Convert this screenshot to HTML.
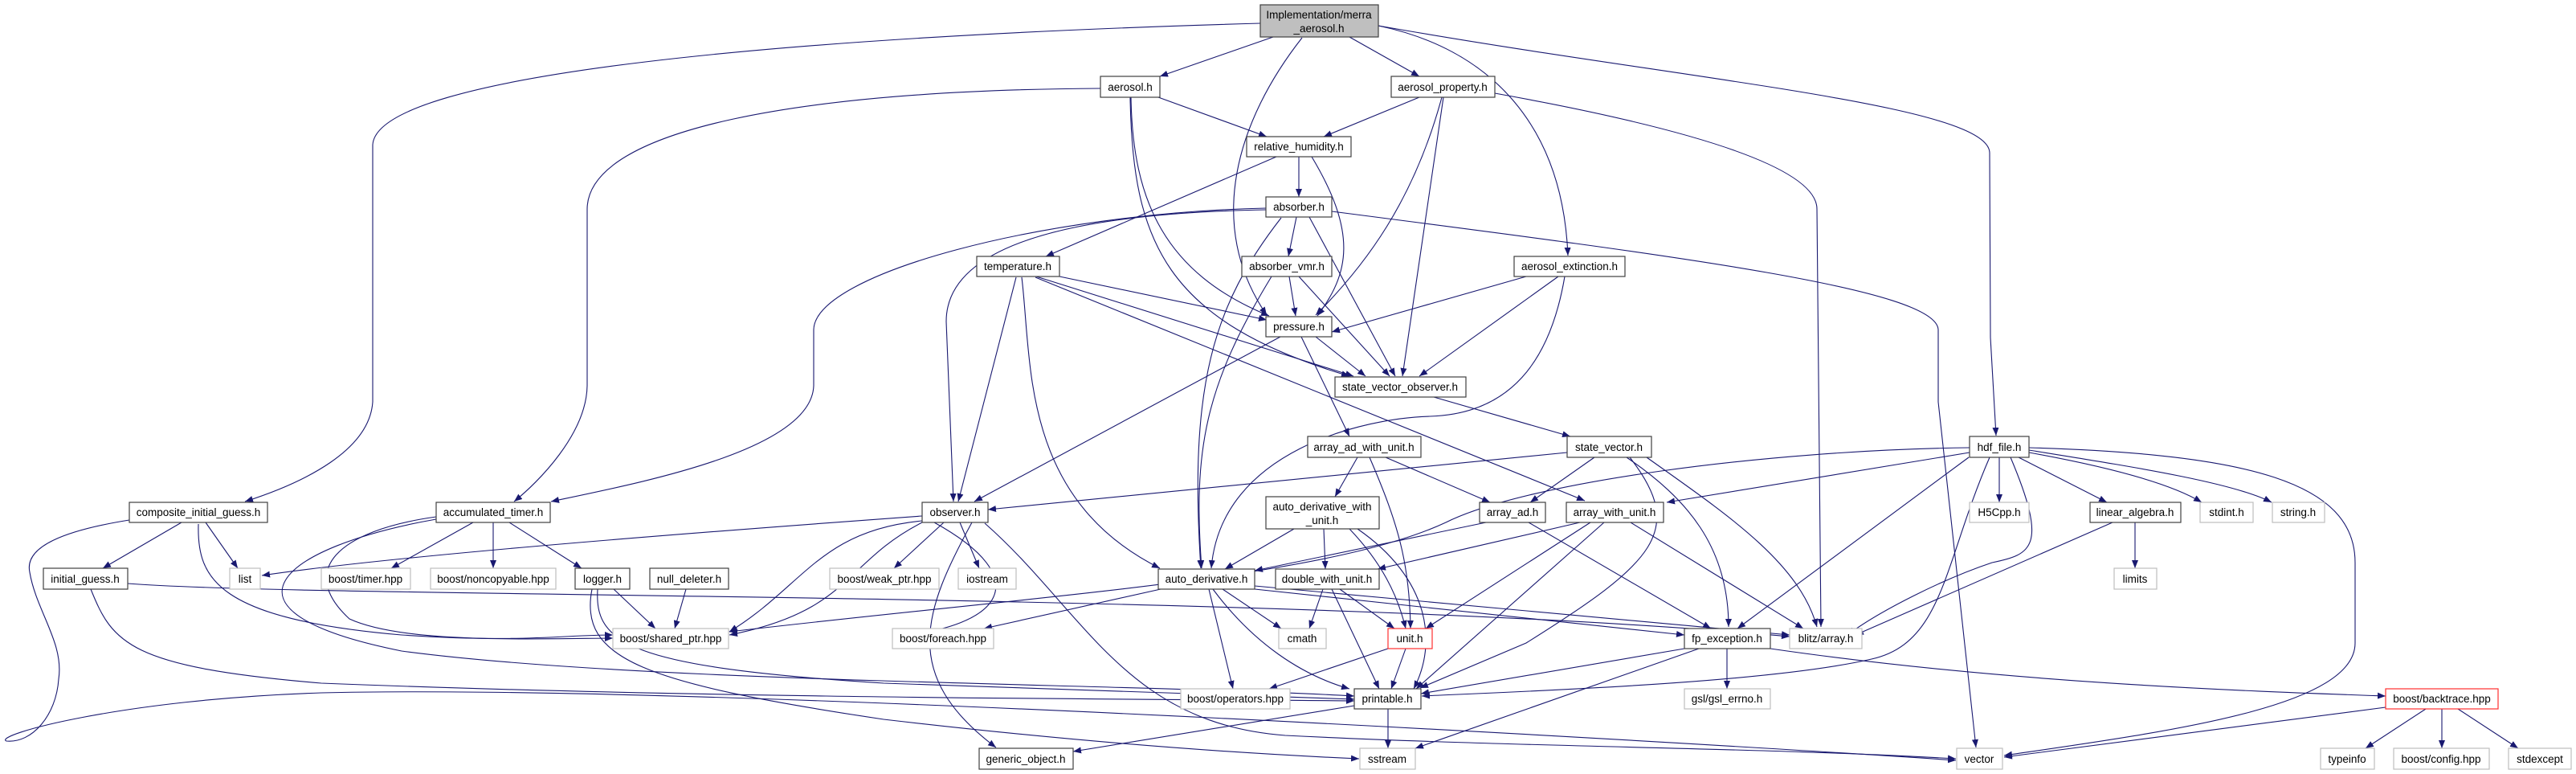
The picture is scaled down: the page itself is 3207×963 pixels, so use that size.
<!DOCTYPE html>
<html><head><meta charset="utf-8"><style>
html,body{margin:0;padding:0;background:#fff;}
svg{display:block;}
text{font-family:"Liberation Sans",sans-serif;font-size:13.5px;fill:#000;text-anchor:middle;}
.e{fill:none;stroke:#191970;stroke-width:1.1;marker-end:url(#a);}
.n{fill:#fff;stroke:#404040;stroke-width:1.2;}
.x{fill:#fff;stroke:#bfbfbf;stroke-width:1.2;}
.r{fill:#fff;stroke:#ff3030;stroke-width:1.2;}
</style></head><body>
<svg width="3207" height="963" viewBox="0 0 3207 963" xmlns="http://www.w3.org/2000/svg">
<defs><marker id="a" viewBox="0 0 10 8" refX="10" refY="4" markerWidth="10" markerHeight="8" markerUnits="userSpaceOnUse" orient="auto"><path d="M0,0 L10,4 L0,8 z" fill="#191970"/></marker></defs>
<g>
<!-- top edges -->
<path class="e" d="M1569,29 C1000,45 470,90 464,180 L464,500 C460,560 380,600 305,624"/>
<path class="e" d="M1585,46 L1444,95"/>
<path class="e" d="M1621,47 C1540,150 1500,280 1577,392"/>
<path class="e" d="M1680,46 L1767,95"/>
<path class="e" d="M1716,32 C1850,60 1945,150 1952,318"/>
<path class="e" d="M1716,32 C2100,100 2475,130 2477,190 L2478,420 L2485,542"/>
<!-- aerosol.h -->
<path class="e" d="M1370,110 C1000,112 732,160 731,260 L731,480 C730,540 670,600 640,624"/>
<path class="e" d="M1442,121 L1577,170"/>
<path class="e" d="M1408,121 C1410,250 1450,340 1580,393"/>
<path class="e" d="M1407,121 C1410,300 1450,400 1680,468"/>
<!-- aerosol_property -->
<path class="e" d="M1767,121 L1648,170"/>
<path class="e" d="M1795,121 C1760,250 1700,330 1638,392"/>
<path class="e" d="M1797,121 L1746,468"/>
<path class="e" d="M1861,116 C2050,150 2262,200 2262,260 L2267,780"/>
<!-- relative_humidity -->
<path class="e" d="M1617,195 L1617,245"/>
<path class="e" d="M1589,195 L1302,319"/>
<path class="e" d="M1633,195 C1690,290 1680,340 1640,393"/>
<!-- absorber -->
<path class="e" d="M1614,270 L1604,319"/>
<path class="e" d="M1630,270 L1737,468"/>
<path class="e" d="M1595,271 C1510,380 1480,480 1495,707"/>
<path class="e" d="M1658,263 C2100,320 2410,360 2413,410 L2413,500 L2460,930"/>
<path class="e" d="M1576,259 C1300,265 1015,340 1013,410 L1013,480 C1010,560 800,600 686,624"/>
<path class="e" d="M1576,261 C1350,265 1178,300 1178,400 L1187,624"/>
<!-- temperature -->
<path class="e" d="M1319,344 L1577,398"/>
<path class="e" d="M1290,344 L1685,468"/>
<path class="e" d="M1289,345 L1973,623"/>
<path class="e" d="M1265,345 L1193,624"/>
<path class="e" d="M1272,345 C1285,450 1270,620 1444,707"/>
<!-- absorber_vmr -->
<path class="e" d="M1605,344 L1613,393"/>
<path class="e" d="M1617,344 L1730,468"/>
<path class="e" d="M1583,344 C1500,480 1485,560 1496,707"/>
<!-- aerosol_extinction -->
<path class="e" d="M1900,344 L1658,413"/>
<path class="e" d="M1940,344 L1767,468"/>
<path class="e" d="M1948,344 C1930,450 1880,515 1780,518 C1700,520 1520,560 1508,707"/>
<!-- pressure -->
<path class="e" d="M1638,419 L1700,468"/>
<path class="e" d="M1594,419 L1213,624"/>
<path class="e" d="M1620,419 L1680,543"/>
<!-- svo -->
<path class="e" d="M1785,494 L1955,543"/>
<!-- state_vector -->
<path class="e" d="M1951,563 L1230,634"/>
<path class="e" d="M1985,569 L1905,625"/>
<path class="e" d="M2025,569 C2100,620 2152,680 2152,780"/>
<path class="e" d="M2050,569 C2150,640 2240,700 2262,780"/>
<path class="e" d="M2029,569 C2100,660 2060,700 1900,800 L1768,856"/>
<!-- array_ad_with_unit -->
<path class="e" d="M1690,569 L1662,618"/>
<path class="e" d="M1725,569 L1855,625"/>
<path class="e" d="M1705,569 C1740,650 1755,700 1756,782"/>
<!-- observer -->
<path class="e" d="M1175,650 L1113,707"/>
<path class="e" d="M1195,650 L1219,707"/>
<path class="e" d="M1148,642 C900,660 500,690 326,716"/>
<path class="e" d="M1148,648 C1020,660 1000,730 908,786"/>
<path class="e" d="M1148,650 C1050,700 1060,760 908,790"/>
<path class="e" d="M1163,650 C1290,720 1250,780 1112,792"/>
<path class="e" d="M1210,650 C1150,760 1120,840 1240,930"/>
<path class="e" d="M1226,651 C1350,760 1400,900 1600,915 C1900,930 2200,930 2435,944"/>
<!-- composite -->
<path class="e" d="M226,650 L128,707"/>
<path class="e" d="M256,650 L296,707"/>
<path class="e" d="M247,652 C245,720 270,770 500,790 C650,800 700,790 763,790"/>
<path class="e" d="M161,647 C80,660 30,680 37,712 C45,760 80,800 73,845 C70,890 40,925 8,922 C-10,915 150,870 400,862 C900,850 2200,930 2435,946"/>
<!-- accumulated -->
<path class="e" d="M589,650 L487,707"/>
<path class="e" d="M614,650 L614,707"/>
<path class="e" d="M634,650 L724,707"/>
<path class="e" d="M543,643 C420,660 370,710 435,770 C500,800 650,795 763,794"/>
<path class="e" d="M543,646 C350,680 250,760 500,810 C800,850 1400,850 1686,866"/>
<!-- initial_guess -->
<path class="e" d="M159,726 C400,745 1600,735 2228,792"/>
<path class="e" d="M113,733 C140,800 160,830 400,850 C900,870 1500,870 1686,872"/>
<!-- logger -->
<path class="e" d="M764,733 L816,782"/>
<path class="e" d="M744,733 C740,800 780,830 1100,850 C1400,860 1600,866 1686,870"/>
<path class="e" d="M737,733 C720,820 800,850 1100,895 C1400,930 1600,940 1692,944"/>
<path class="e" d="M854,733 L840,782"/>
<!-- auto_derivative -->
<path class="e" d="M1445,733 L1225,782"/>
<path class="e" d="M1522,733 L1595,782"/>
<path class="e" d="M1505,733 L1535,857"/>
<path class="e" d="M1510,733 C1560,800 1620,840 1680,857"/>
<path class="e" d="M1562,733 L2097,790"/>
<path class="e" d="M1562,729 L2228,790"/>
<!-- adwu -->
<path class="e" d="M1611,658 L1525,708"/>
<path class="e" d="M1648,658 L1650,708"/>
<path class="e" d="M1680,658 C1720,700 1740,740 1750,782"/>
<path class="e" d="M1690,658 C1780,720 1790,800 1760,857"/>
<!-- array_ad / array_with_unit -->
<path class="e" d="M1850,650 L1562,710"/>
<path class="e" d="M1903,650 L2130,782"/>
<path class="e" d="M1967,650 L1715,708"/>
<path class="e" d="M1980,650 L1775,782"/>
<path class="e" d="M1997,650 L1763,857"/>
<path class="e" d="M2030,650 L2245,782"/>
<!-- double_with_unit -->
<path class="e" d="M1647,733 L1630,782"/>
<path class="e" d="M1668,733 L1736,782"/>
<path class="e" d="M1658,733 L1717,857"/>
<!-- unit -->
<path class="e" d="M1728,807 L1580,857"/>
<path class="e" d="M1750,807 L1732,857"/>
<!-- fp_exception -->
<path class="e" d="M2097,807 L1769,863"/>
<path class="e" d="M2150,807 L2150,857"/>
<path class="e" d="M2115,807 L1762,931"/>
<path class="e" d="M2204,807 C2500,850 2800,860 2970,866"/>
<!-- printable -->
<path class="e" d="M1686,878 L1336,935"/>
<path class="e" d="M1728,882 L1728,931"/>
<!-- hdf_file -->
<path class="e" d="M2489,569 L2489,625"/>
<path class="e" d="M2513,569 L2623,625"/>
<path class="e" d="M2526,563 C2620,580 2700,600 2741,625"/>
<path class="e" d="M2526,560 C2650,580 2780,600 2828,625"/>
<path class="e" d="M2526,557 C2800,565 2932,600 2932,700 L2932,800 C2932,880 2700,910 2495,940"/>
<path class="e" d="M2503,569 C2550,680 2530,690 2480,700 C2420,720 2340,760 2300,790"/>
<path class="e" d="M2451,569 L2163,782"/>
<path class="e" d="M2477,569 C2420,700 2420,800 2330,820 C2200,850 1900,860 1770,866"/>
<path class="e" d="M2452,557 C2200,560 1900,600 1800,650 C1650,720 1300,740 908,786"/>
<path class="e" d="M2452,563 L2075,625"/>
<!-- linear_algebra -->
<path class="e" d="M2658,650 L2658,707"/>
<path class="e" d="M2630,650 L2310,790"/>
<!-- backtrace -->
<path class="e" d="M2970,880 L2495,942"/>
<path class="e" d="M3020,882 L2945,931"/>
<path class="e" d="M3040,882 L3040,931"/>
<path class="e" d="M3060,882 L3135,931"/>
</g>
<g>
<rect x="1569" y="6" width="147" height="40" fill="#bfbfbf" stroke="#404040" stroke-width="1.2"/>
<text x="1642" y="23">Implementation/merra</text><text x="1642" y="40">_aerosol.h</text>
<rect class="n" x="1370" y="95" width="74" height="26"/><text x="1407" y="113">aerosol.h</text>
<rect class="n" x="1732" y="95" width="129" height="26"/><text x="1796" y="113">aerosol_property.h</text>
<rect class="n" x="1552" y="170" width="130" height="25"/><text x="1617" y="187">relative_humidity.h</text>
<rect class="n" x="1576" y="245" width="82" height="25"/><text x="1617" y="262">absorber.h</text>
<rect class="n" x="1216" y="319" width="103" height="25"/><text x="1267" y="336">temperature.h</text>
<rect class="n" x="1546" y="319" width="112" height="25"/><text x="1602" y="336">absorber_vmr.h</text>
<rect class="n" x="1885" y="319" width="138" height="25"/><text x="1954" y="336">aerosol_extinction.h</text>
<rect class="n" x="1576" y="394" width="82" height="25"/><text x="1617" y="411">pressure.h</text>
<rect class="n" x="1662" y="469" width="163" height="25"/><text x="1743" y="486">state_vector_observer.h</text>
<rect class="n" x="1628" y="543" width="141" height="26"/><text x="1698" y="561">array_ad_with_unit.h</text>
<rect class="n" x="1951" y="543" width="105" height="26"/><text x="2003" y="561">state_vector.h</text>
<rect class="n" x="2452" y="543" width="74" height="26"/><text x="2489" y="561">hdf_file.h</text>
<rect class="n" x="161" y="625" width="172" height="25"/><text x="247" y="642">composite_initial_guess.h</text>
<rect class="n" x="543" y="625" width="142" height="25"/><text x="614" y="642">accumulated_timer.h</text>
<rect class="n" x="1148" y="625" width="82" height="25"/><text x="1189" y="642">observer.h</text>
<rect class="n" x="1576" y="618" width="141" height="40"/><text x="1646" y="635">auto_derivative_with</text><text x="1646" y="652">_unit.h</text>
<rect class="n" x="1842" y="625" width="82" height="25"/><text x="1883" y="642">array_ad.h</text>
<rect class="n" x="1950" y="625" width="121" height="25"/><text x="2010" y="642">array_with_unit.h</text>
<rect class="x" x="2452" y="625" width="74" height="25"/><text x="2489" y="642">H5Cpp.h</text>
<rect class="n" x="2602" y="625" width="113" height="25"/><text x="2658" y="642">linear_algebra.h</text>
<rect class="x" x="2739" y="625" width="66" height="25"/><text x="2772" y="642">stdint.h</text>
<rect class="x" x="2829" y="625" width="65" height="25"/><text x="2861" y="642">string.h</text>
<rect class="n" x="54" y="707" width="105" height="26"/><text x="106" y="725">initial_guess.h</text>
<rect class="x" x="286" y="707" width="38" height="26"/><text x="305" y="725">list</text>
<rect class="x" x="400" y="707" width="111" height="26"/><text x="455" y="725">boost/timer.hpp</text>
<rect class="x" x="536" y="707" width="156" height="26"/><text x="614" y="725">boost/noncopyable.hpp</text>
<rect class="n" x="716" y="707" width="68" height="26"/><text x="750" y="725">logger.h</text>
<rect class="n" x="809" y="707" width="98" height="26"/><text x="858" y="725">null_deleter.h</text>
<rect class="x" x="1033" y="707" width="136" height="26"/><text x="1101" y="725">boost/weak_ptr.hpp</text>
<rect class="x" x="1193" y="707" width="72" height="26"/><text x="1229" y="725">iostream</text>
<rect class="n" x="1442" y="708" width="120" height="25"/><text x="1502" y="725">auto_derivative.h</text>
<rect class="n" x="1588" y="708" width="129" height="25"/><text x="1652" y="725">double_with_unit.h</text>
<rect class="x" x="2632" y="707" width="53" height="26"/><text x="2658" y="725">limits</text>
<rect class="x" x="763" y="782" width="144" height="25"/><text x="835" y="799">boost/shared_ptr.hpp</text>
<rect class="x" x="1111" y="782" width="126" height="25"/><text x="1174" y="799">boost/foreach.hpp</text>
<rect class="x" x="1592" y="782" width="59" height="25"/><text x="1621" y="799">cmath</text>
<rect class="r" x="1728" y="782" width="55" height="25"/><text x="1755" y="799">unit.h</text>
<rect class="n" x="2097" y="782" width="107" height="25"/><text x="2150" y="799">fp_exception.h</text>
<rect class="x" x="2228" y="782" width="90" height="25"/><text x="2273" y="799">blitz/array.h</text>
<rect class="x" x="1470" y="857" width="136" height="25"/><text x="1538" y="874">boost/operators.hpp</text>
<rect class="n" x="1686" y="857" width="83" height="25"/><text x="1727" y="874">printable.h</text>
<rect class="x" x="2097" y="857" width="107" height="25"/><text x="2150" y="874">gsl/gsl_errno.h</text>
<rect class="r" x="2970" y="857" width="140" height="25"/><text x="3040" y="874">boost/backtrace.hpp</text>
<rect class="n" x="1219" y="931" width="117" height="26"/><text x="1277" y="949">generic_object.h</text>
<rect class="x" x="1693" y="931" width="69" height="26"/><text x="1727" y="949">sstream</text>
<rect class="x" x="2436" y="931" width="57" height="26"/><text x="2464" y="949">vector</text>
<rect class="x" x="2889" y="931" width="67" height="26"/><text x="2922" y="949">typeinfo</text>
<rect class="x" x="2980" y="931" width="119" height="26"/><text x="3039" y="949">boost/config.hpp</text>
<rect class="x" x="3123" y="931" width="78" height="26"/><text x="3162" y="949">stdexcept</text>
</g>
</svg>
</body></html>
